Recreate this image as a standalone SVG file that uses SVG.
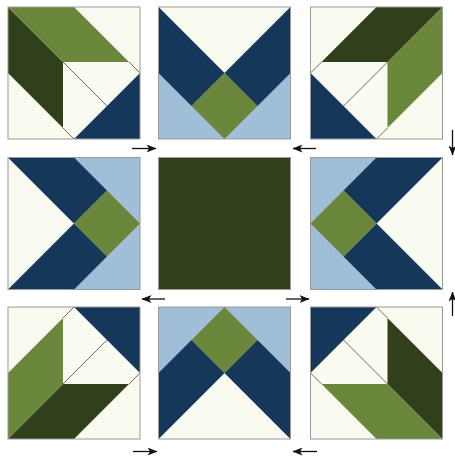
<svg xmlns="http://www.w3.org/2000/svg" width="455" height="457" viewBox="0 0 455 457">
<defs>
<style>
.cr{fill:#f9faf0}
.nv{fill:#15385a}
.lb{fill:#a0bed8}
.lg{fill:#6b873b}
.dg{fill:#313f1b}
.seam{stroke:#4a4a4a;stroke-width:0.8;fill:none}
.frame{fill:none;stroke:#9a9a9a;stroke-width:1}
.arr{stroke:#111;stroke-width:1.3;fill:none;marker-end:url(#ah)}
</style>
<marker id="ah" markerUnits="userSpaceOnUse" viewBox="0 0 10 8" refX="9.5" refY="4" markerWidth="10" markerHeight="8" orient="auto">
<path d="M0,0 L10,4 L0,8 L2.5,4 z" fill="#111"/>
</marker>
</defs>
<rect width="455" height="457" fill="#ffffff"/>

<g id="block-top-left" transform="translate(8,7)">
<rect class="cr" width="132" height="132"/>
<polygon class="dg" points="0,0 55,55 55,121 0,66"/>
<polygon class="lg" points="0,0 66,0 121,55 55,55"/>
<polygon class="nv" points="132,66 132,132 66,132"/>
<path class="seam" d="M55,55 L99,99 M121,55 L132,66 M55,121 L66,132"/>
<rect class="frame" width="132" height="132"/>
</g>

<g id="block-top-middle" transform="translate(158.5,7)">
<rect class="lb" width="132" height="132"/>
<polygon class="cr" points="0,0 132,0 66,66"/>
<polygon class="nv" points="0,0 66,66 33,99 0,66"/>
<polygon class="nv" points="132,0 132,66 99,99 66,66"/>
<polygon class="lg" points="66,66 99,99 66,132 33,99"/>
<rect class="frame" width="132" height="132"/>
</g>

<g id="block-top-right" transform="translate(442.5,7) scale(-1,1)">
<rect class="cr" width="132" height="132"/>
<polygon class="lg" points="0,0 55,55 55,121 0,66"/>
<polygon class="dg" points="0,0 66,0 121,55 55,55"/>
<polygon class="nv" points="132,66 132,132 66,132"/>
<path class="seam" d="M55,55 L99,99 M121,55 L132,66 M55,121 L66,132"/>
<rect class="frame" width="132" height="132"/>
</g>

<g id="block-middle-left" transform="translate(8,289.5) rotate(-90)">
<rect class="lb" width="132" height="132"/>
<polygon class="cr" points="0,0 132,0 66,66"/>
<polygon class="nv" points="0,0 66,66 33,99 0,66"/>
<polygon class="nv" points="132,0 132,66 99,99 66,66"/>
<polygon class="lg" points="66,66 99,99 66,132 33,99"/>
<rect class="frame" width="132" height="132"/>
</g>

<g id="block-center" transform="translate(158.5,157.5)">
<rect class="dg" width="132" height="132"/>
<rect class="frame" width="132" height="132"/>
</g>

<g id="block-middle-right" transform="translate(442.5,157.5) rotate(90)">
<rect class="lb" width="132" height="132"/>
<polygon class="cr" points="0,0 132,0 66,66"/>
<polygon class="nv" points="0,0 66,66 33,99 0,66"/>
<polygon class="nv" points="132,0 132,66 99,99 66,66"/>
<polygon class="lg" points="66,66 99,99 66,132 33,99"/>
<rect class="frame" width="132" height="132"/>
</g>

<g id="block-bottom-left" transform="translate(8,439) scale(1,-1)">
<rect class="cr" width="132" height="132"/>
<polygon class="lg" points="0,0 55,55 55,121 0,66"/>
<polygon class="dg" points="0,0 66,0 121,55 55,55"/>
<polygon class="nv" points="132,66 132,132 66,132"/>
<path class="seam" d="M55,55 L99,99 M121,55 L132,66 M55,121 L66,132"/>
<rect class="frame" width="132" height="132"/>
</g>

<g id="block-bottom-middle" transform="translate(158.5,439) scale(1,-1)">
<rect class="lb" width="132" height="132"/>
<polygon class="cr" points="0,0 132,0 66,66"/>
<polygon class="nv" points="0,0 66,66 33,99 0,66"/>
<polygon class="nv" points="132,0 132,66 99,99 66,66"/>
<polygon class="lg" points="66,66 99,99 66,132 33,99"/>
<rect class="frame" width="132" height="132"/>
</g>

<g id="block-bottom-right" transform="translate(442.5,439) scale(-1,-1)">
<rect class="cr" width="132" height="132"/>
<polygon class="dg" points="0,0 55,55 55,121 0,66"/>
<polygon class="lg" points="0,0 66,0 121,55 55,55"/>
<polygon class="nv" points="132,66 132,132 66,132"/>
<path class="seam" d="M55,55 L99,99 M121,55 L132,66 M55,121 L66,132"/>
<rect class="frame" width="132" height="132"/>
</g>

<g id="connectors">
<line class="arr" x1="132" y1="148.5" x2="156" y2="148.5"/>
<line class="arr" x1="316" y1="148.5" x2="293" y2="148.5"/>
<line class="arr" x1="452.5" y1="130" x2="452.5" y2="155"/>
<line class="arr" x1="165" y1="299" x2="142" y2="299"/>
<line class="arr" x1="286" y1="299" x2="309" y2="299"/>
<line class="arr" x1="452.5" y1="316" x2="452.5" y2="292"/>
<line class="arr" x1="133" y1="451.5" x2="157" y2="451.5"/>
<line class="arr" x1="317" y1="451.5" x2="293" y2="451.5"/>
</g>
</svg>
